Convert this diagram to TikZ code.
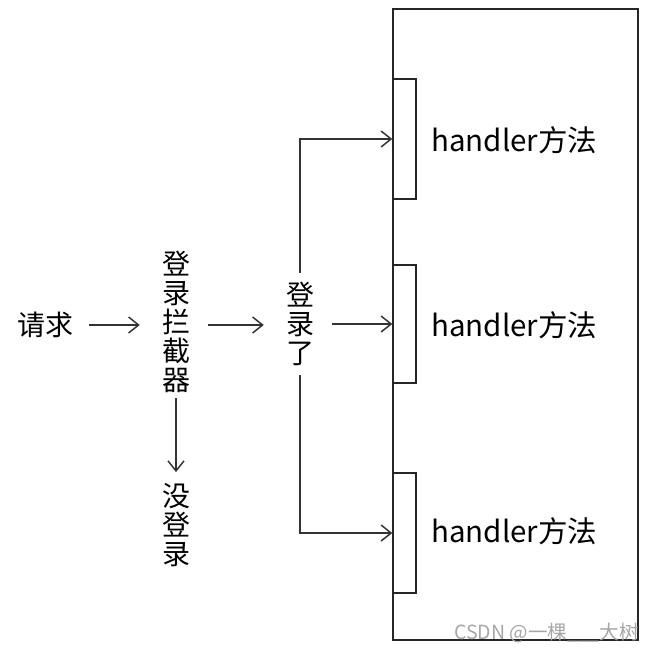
\documentclass[tikz,border=0pt]{standalone}
\usepackage{fontspec}
\setmainfont{Noto Sans CJK SC}
\usetikzlibrary{arrows.meta}
\begin{document}
\begin{tikzpicture}[x=1pt,y=-1pt,
  lbl/.style={inner sep=0pt,font=\fontsize{28}{29}\selectfont,align=center},
  htxt/.style={inner sep=0pt,anchor=west,font=\fontsize{29.5}{30}\selectfont},
  arr/.style={line width=1.5pt,draw=black!80,-{Straight Barb[length=10pt,width=16pt,line width=1.5pt]}},
  box/.style={line width=1.4pt,draw=black!85}]
\useasboundingbox (0,0) rectangle (655,653);
\node[lbl] (req) at (45,325) {请求};
\node[lbl] (intc) at (176,322) {登\\录\\拦\\截\\器};
\node[lbl] (ok) at (300,324) {登\\录\\了};
\node[lbl] (no) at (176,525) {没\\登\\录};
\draw[box] (393,9) rectangle (638,640);
\node[box,minimum width=23pt,minimum height=120pt,inner sep=0pt] (b1) at (404.5,139) {};
\node[box,minimum width=23pt,minimum height=118pt,inner sep=0pt] (b2) at (404.5,324) {};
\node[box,minimum width=23pt,minimum height=120pt,inner sep=0pt] (b3) at (404.5,533) {};
\node[htxt] (t1) at (431,140) {handler方法};
\node[htxt] (t2) at (431,325) {handler方法};
\node[htxt] (t3) at (431,531) {handler方法};
\draw[arr,shorten <=16pt,shorten >=22pt] (req.east) -- (req.east -| intc.west);
\draw[arr,shorten <=18pt,shorten >=22pt] (intc.east |- req.east) -- (req.east -| ok.west);
\draw[arr,shorten <=5pt,shorten >=11pt] (intc.south) -- (no.north);
\draw[arr,shorten <=18pt] (ok.east |- b2.west) -- (b2.west);
\draw[arr,shorten <=9pt] (ok.north) |- (b1.west);
\draw[arr,shorten <=9pt] (ok.south) |- (b3.west);
\node[inner sep=0pt,anchor=south east,text=black!35,font=\fontsize{19.5}{21}\selectfont] (wm) at (639,643) {CSDN @一棵\_\_\_大树};
\end{tikzpicture}
\end{document}
